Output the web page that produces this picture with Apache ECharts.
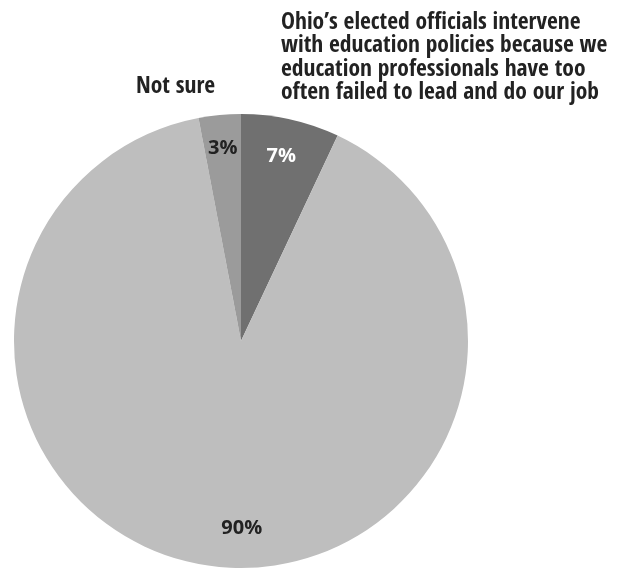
<!DOCTYPE html>
<html>
<head>
<meta charset="utf-8">
<script src="https://cdn.jsdelivr.net/npm/echarts@6/dist/echarts.min.js"></script>
<style>
  html, body { margin: 0; padding: 0; background: #fff; }
  #chart { width: 627px; height: 569px; }
</style>
</head>
<body>
<div id="chart"></div>
<script>
// Survey answers, clockwise from 12 o'clock
const categories = [
  "Ohio\u2019s elected officials intervene\nwith education policies because we\neducation professionals have too\noften failed to lead and do our job",
  "Disagree",
  "Not sure"
];
const values = [7, 90, 3];
const sliceColors = ["#707070", "#bebebe", "#9b9b9b"];
const labelColors = ["#ffffff", "#222222", "#222222"];

const condensed = "'Open Sans Condensed', 'Roboto Condensed', sans-serif";
const center = [241, 341];
const radius = 227;

const chart = echarts.init(document.getElementById('chart'), null, { renderer: 'canvas' });

const sliceData = values.map((v, i) => ({
  name: categories[i],
  value: v,
  itemStyle: { color: sliceColors[i] }
}));

// the big slice's label sits at the bottom of the disc
const labelOffsets = [[-2, 4], [25, -5], [0, 0]];
const labelData = values.map((v, i) => ({
  name: categories[i],
  value: v,
  label: { color: labelColors[i], offset: labelOffsets[i] }
}));

const headStyle = { fontFamily: condensed, fontWeight: 'bold', fontSize: 23.5, lineHeight: 23.5, color: '#222' };

chart.setOption({
  animation: false,
  title: [
    { text: categories[0], left: 281, top: 11, padding: 0, textStyle: headStyle },
    { text: categories[2], left: 136, top: 75, padding: 0, textStyle: headStyle }
  ],
  series: [
    {
      type: 'pie',
      center: center,
      radius: radius,
      startAngle: 90,
      clockwise: true,
      silent: true,
      label: { show: false },
      labelLine: { show: false },
      itemStyle: { borderWidth: 0 },
      data: sliceData
    },
    {
      // transparent ring used only to place the percentage labels
      type: 'pie',
      center: center,
      radius: [radius * 0.68, radius],
      startAngle: 90,
      clockwise: true,
      silent: true,
      itemStyle: { color: 'rgba(0,0,0,0)' },
      label: {
        show: true,
        position: 'inside',
        formatter: p => p.value + '%',
        fontFamily: "'Open Sans', sans-serif",
        fontWeight: 'bold',
        fontSize: 20
      },
      labelLine: { show: false },
      data: labelData
    }
  ]
});
</script>
</body>
</html>
